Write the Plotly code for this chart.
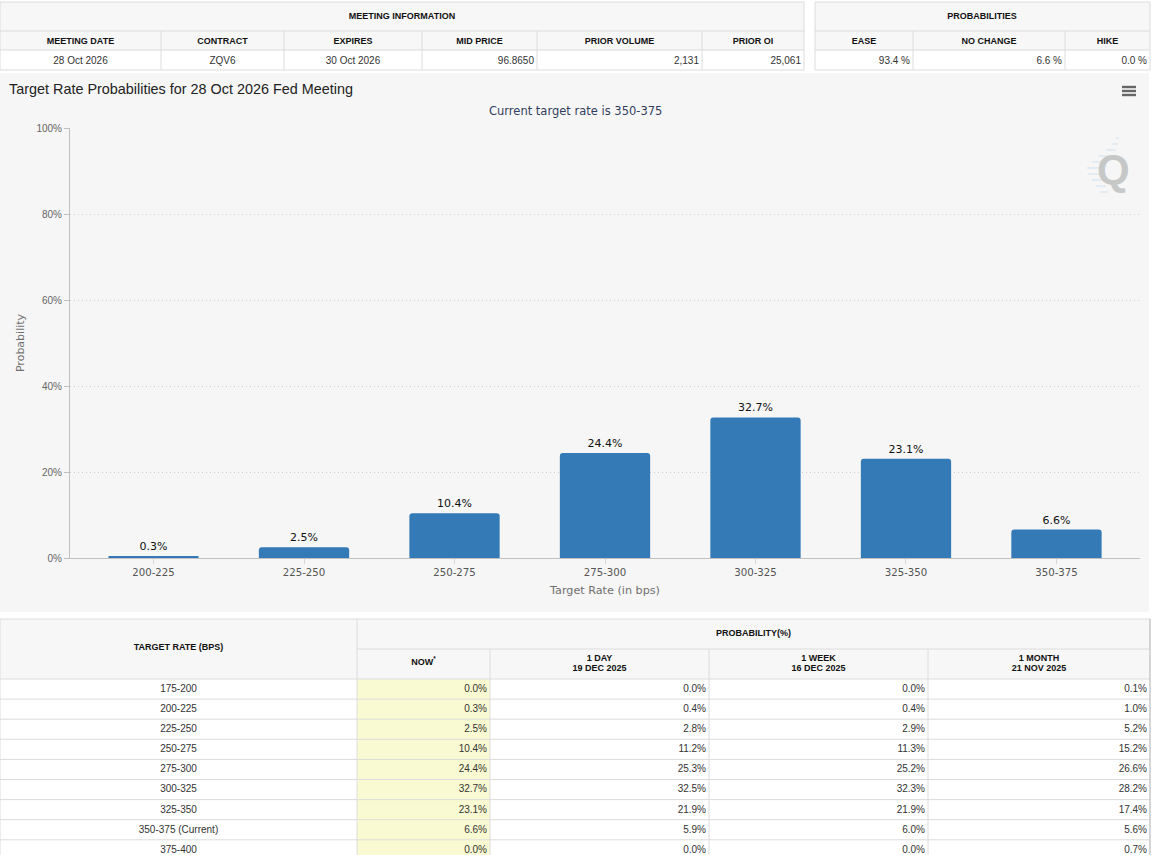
import plotly.graph_objects as go

# ---- data ----
categories = ["200-225", "225-250", "250-275", "275-300", "300-325", "325-350", "350-375"]
probabilities = [0.3, 2.5, 10.4, 24.4, 32.7, 23.1, 6.6]
y_ticks = [0, 20, 40, 60, 80, 100]

meeting_headers = ["MEETING DATE", "CONTRACT", "EXPIRES", "MID PRICE", "PRIOR VOLUME", "PRIOR OI"]
meeting_values = ["28 Oct 2026", "ZQV6", "30 Oct 2026", "96.8650", "2,131", "25,061"]
prob_headers = ["EASE", "NO CHANGE", "HIKE"]
prob_values = ["93.4 %", "6.6 %", "0.0 %"]

target_rates = ["175-200", "200-225", "225-250", "250-275", "275-300", "300-325", "325-350",
                "350-375 (Current)", "375-400"]
now_col = ["0.0%", "0.3%", "2.5%", "10.4%", "24.4%", "32.7%", "23.1%", "6.6%", "0.0%"]
day_col = ["0.0%", "0.4%", "2.8%", "11.2%", "25.3%", "32.5%", "21.9%", "5.9%", "0.0%"]
week_col = ["0.0%", "0.4%", "2.9%", "11.3%", "25.2%", "32.3%", "21.9%", "6.0%", "0.0%"]
month_col = ["0.1%", "1.0%", "5.2%", "15.2%", "26.6%", "28.2%", "17.4%", "5.6%", "0.7%"]
period_names = ["1 DAY", "1 WEEK", "1 MONTH"]
period_dates = ["19 DEC 2025", "16 DEC 2025", "21 NOV 2025"]

# ---- style ----
W, H = 1152, 855
HEAD = "#f7f7f7"
LINE = "#dcdcdc"
NOW = "#fafad2"
ARIAL = "Liberation Sans"
LUCIDA = "DejaVu Sans"
hfont = dict(family=ARIAL, size=9, color="#111111")
cfont = dict(family=ARIAL, size=10, color="#333333")
PAD = 3

shapes = []


def rect(x0, x1, y0, y1, fill):
    shapes.append(dict(type="rect", xref="paper", yref="paper", x0=x0 / W, x1=x1 / W, y0=1 - y1 / H, y1=1 - y0 / H,
                       fillcolor=fill, line_width=0, layer="below"))


def line(x0, x1, y0, y1, color=LINE, width=1):
    shapes.append(dict(type="line", xref="paper", yref="paper", x0=x0 / W, x1=x1 / W, y0=1 - y0 / H, y1=1 - y1 / H,
                       line=dict(color=color, width=width), layer="below"))


fig = go.Figure()


def put(xs, ys, texts, pos, font):
    fig.add_trace(go.Scatter(x=xs, y=ys, text=texts, mode="text", textposition=pos, textfont=font,
                             xaxis="x2", yaxis="y2", cliponaxis=False, hoverinfo="skip"))


def bold(items):
    return [f"<b>{t}</b>" for t in items]


def mid(edges):
    return [(a + b) / 2 for a, b in zip(edges, edges[1:])]


# chart
fig.add_bar(x=categories, y=probabilities, marker=dict(color="#337ab7", line_width=0),
            text=[f"{v:.1f}%" for v in probabilities], textposition="outside", cliponaxis=False,
            textfont=dict(family=LUCIDA, size=11, color="#111111"), width=0.6)

# --- top tables ---
m_edges = [0, 161, 284, 422, 537, 702, 804]
p_edges = [815, 913, 1065, 1150]
for edges in (m_edges, p_edges):
    rect(edges[0], edges[-1], 2, 50, HEAD)
    rect(edges[0], edges[-1], 50, 70, "white")
    for yy in (2, 31, 50, 70):
        line(edges[0], edges[-1], yy, yy)
    line(edges[0], edges[0], 2, 70)
    line(edges[-1], edges[-1], 2, 70)
    for xx in edges[1:-1]:
        line(xx, xx, 31, 70)

put([402, 982], [17], bold(["MEETING INFORMATION", "PROBABILITIES"]), "middle center", hfont) if False else None
put([402, 982], [17, 17], bold(["MEETING INFORMATION", "PROBABILITIES"]), "middle center", hfont)
put(mid(m_edges) + mid(p_edges), [41.5] * 9, bold(meeting_headers + prob_headers), "middle center", hfont)
put(mid(m_edges)[:3], [61.5] * 3, meeting_values[:3], "middle center", cfont)
put([e - PAD for e in m_edges[4:]], [61.5] * 3, meeting_values[3:], "middle left", cfont)
put([e - PAD for e in p_edges[1:]], [61.5] * 3, prob_values, "middle left", cfont)

# --- bottom table ---
b_edges = [0, 357, 490, 709, 928, 1150]
ROW0, ROWH = 679, 20.1
row_tops = [ROW0 + ROWH * i for i in range(len(target_rates))]
row_mid = [t + 10.4 for t in row_tops]
rect(0, 1150, 619, 679, HEAD)
rect(0, 1150, 679, 855, "white")
rect(357, 490, 679, 855, NOW)
for yy in [619] + row_tops:
    line(0, 1150, yy, yy)
line(357, 1150, 649, 649)
for xx in b_edges[:-1]:
    line(xx, xx, 619 if xx < 400 else 649, 855)
line(1150, 1150, 619, 855, "#c8c8c8", 1.5)

put([178.5], [648], bold(["TARGET RATE (BPS)"]), "middle center", hfont)
put([753.5], [634], bold(["PROBABILITY(%)"]), "middle center", hfont)
put([423.5], [663], ["<b>NOW<sup>*</sup></b>"], "middle center", hfont)
put(mid(b_edges)[2:], [658.5] * 3, bold(period_names), "middle center", hfont)
put(mid(b_edges)[2:], [669] * 3, bold(period_dates), "middle center", hfont)
put([178.5] * 9, row_mid, target_rates, "middle center", cfont)
for edge, col in zip(b_edges[2:], (now_col, day_col, week_col, month_col)):
    put([edge - PAD] * 9, row_mid, col, "middle left", cfont)

# --- page furniture ---
shapes.insert(0, dict(type="rect", xref="paper", yref="paper", x0=0, x1=1149 / W, y0=1 - 612 / H, y1=1 - 73 / H,
                      fillcolor="#f6f6f6", line_width=0, layer="below"))
for yy in (87, 91, 95):
    line(1122, 1136, yy, yy, "#666666", 2.4)
for a, b, yy in [(1116, 1119, 138), (1112, 1118, 144), (1106, 1116, 150), (1098, 1112, 156),
                 (1092, 1106, 162), (1087, 1100, 168), (1088, 1100, 174), (1092, 1102, 180),
                 (1096, 1106, 186), (1100, 1108, 192)]:
    line(a, b, yy, yy, "#dbe9f0", 1.5)

annotations = [
    dict(text="Target Rate Probabilities for 28 Oct 2026 Fed Meeting", x=7 / W, y=1 - 89 / H, xref="paper",
         yref="paper", xanchor="left", yanchor="middle", showarrow=False,
         font=dict(family=ARIAL, size=14.4, color="#222222")),
    dict(text="Current target rate is 350-375", x=575 / W, y=1 - 111 / H, xref="paper", yref="paper",
         xanchor="center", yanchor="middle", showarrow=False,
         font=dict(family=LUCIDA, size=11.5, color="#333e5e")),
    dict(text="<b>Q</b>", x=1113 / W, y=1 - 169 / H, xref="paper", yref="paper", xanchor="center",
         yanchor="middle", showarrow=False, font=dict(family=ARIAL, size=42, color="#c6c8c8")),
]

fig.update_layout(
    width=W, height=H, margin=dict(l=0, r=0, t=0, b=0, pad=0, autoexpand=False), paper_bgcolor="white",
    plot_bgcolor="rgba(0,0,0,0)", showlegend=False, barcornerradius=3, shapes=shapes, annotations=annotations,
    xaxis=dict(domain=[70 / W, 1140 / W], type="category", range=[-0.555, 6.555], showline=True, linecolor="#c0c0c0",
               ticks="outside", ticklen=5, tickcolor="#d8d8d8", showgrid=False, automargin=False,
               tickfont=dict(family=LUCIDA, size=10.2, color="#555555"),
               title=dict(text="Target Rate (in bps)", standoff=8,
                          font=dict(family=LUCIDA, size=11.2, color="#707070"))),
    yaxis=dict(domain=[1 - 558 / H, 1 - 128 / H], range=[0, 100], tickmode="array", tickvals=y_ticks,
               ticktext=[f"{t}%" for t in y_ticks], showline=True, automargin=False,
               linecolor="#c0c0c0", ticks="outside", ticklen=5, tickcolor="#c0c0c0", zeroline=False,
               gridcolor="#cfcfcf", griddash="1px,3px", gridwidth=1,
               tickfont=dict(family=ARIAL, size=10, color="#666666"),
               title=dict(text="Probability", standoff=9,
                          font=dict(family=LUCIDA, size=11, color="#707070"))),
    xaxis2=dict(domain=[0, 1], range=[0, W], visible=False, anchor="y2", fixedrange=True),
    yaxis2=dict(domain=[0, 1], range=[H, 0], visible=False, anchor="x2", fixedrange=True),
)

fig.write_html("out.html", config=dict(displayModeBar=False),
               post_script="document.body.style.margin='0';document.body.style.overflow='hidden';")
